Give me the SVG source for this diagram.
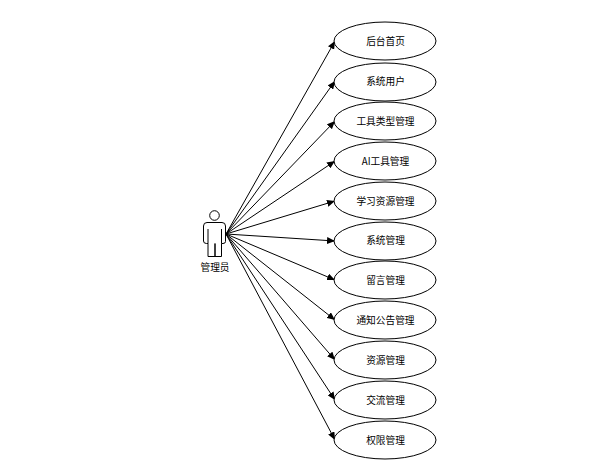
<svg xmlns="http://www.w3.org/2000/svg" width="605" height="472" viewBox="0 0 605 472">
<defs>
<marker id="a" viewBox="0 0 8 7" refX="8" refY="3.5" markerWidth="8" markerHeight="7" markerUnits="userSpaceOnUse" orient="auto"><path d="M0 0L8 3.500L0 7Z" fill="#000"/></marker>
</defs>
<style>
text{font-family:"Noto Sans CJK SC","Liberation Sans",sans-serif;font-size:9.700px;text-anchor:middle;fill:#000}
ellipse{fill:#fff;stroke:#000;stroke-width:1}
.c line{stroke:#000;stroke-width:1;marker-end:url(#a)}
</style>
<rect width="605" height="472" fill="#fff"/>
<g class="c" id="connectors">
<line x1="226" y1="234" x2="335" y2="41"/>
<line x1="226" y1="234" x2="335" y2="81"/>
<line x1="226" y1="234" x2="335" y2="121"/>
<line x1="226" y1="234" x2="335" y2="161"/>
<line x1="226" y1="234" x2="335" y2="201"/>
<line x1="226" y1="234" x2="335" y2="241"/>
<line x1="226" y1="234" x2="335" y2="280"/>
<line x1="226" y1="234" x2="335" y2="320"/>
<line x1="226" y1="234" x2="335" y2="360"/>
<line x1="226" y1="234" x2="335" y2="400"/>
<line x1="226" y1="234" x2="335" y2="440"/>
</g>
<g id="actor" fill="#fff" stroke="#000">
<circle cx="214.500" cy="215.500" r="4.800"/>
<path d="M207 222.500H222Q225.500 222.500 225.500 226V241.500Q225.500 243.500 223 243.500H221.500V256.500H215V243.500 256.500H208V243.500H206.500Q203.500 243.500 203.500 241V226Q203.500 222.500 207 222.500Z"/>
<path d="M208 229V243.500M221.500 229V243.500" fill="none"/>
<text x="215" y="271" stroke="none">管理员</text>
</g>
<g id="n1"><ellipse cx="385" cy="41" rx="51" ry="19"/><text x="385.500" y="44.500">后台首页</text></g>
<g id="n2"><ellipse cx="385" cy="82" rx="51" ry="19"/><text x="385.500" y="85">系统用户</text></g>
<g id="n3"><ellipse cx="385" cy="121" rx="51" ry="19"/><text x="385.500" y="124.500">工具类型管理</text></g>
<g id="n4"><ellipse cx="385" cy="161" rx="51" ry="19"/><text x="385.500" y="164.500">AI工具管理</text></g>
<g id="n5"><ellipse cx="385" cy="201" rx="51" ry="19"/><text x="385.500" y="204.500">学习资源管理</text></g>
<g id="n6"><ellipse cx="385" cy="241" rx="51" ry="19"/><text x="385.500" y="244">系统管理</text></g>
<g id="n7"><ellipse cx="385" cy="280" rx="51" ry="19"/><text x="385.500" y="283.500">留言管理</text></g>
<g id="n8"><ellipse cx="385" cy="320" rx="51" ry="19"/><text x="385.500" y="323.500">通知公告管理</text></g>
<g id="n9"><ellipse cx="385" cy="360" rx="51" ry="19"/><text x="385.500" y="363.500">资源管理</text></g>
<g id="n10"><ellipse cx="385" cy="400" rx="51" ry="19"/><text x="385.500" y="403.500">交流管理</text></g>
<g id="n11"><ellipse cx="385" cy="440" rx="51" ry="19"/><text x="385.500" y="443.500">权限管理</text></g>
</svg>
